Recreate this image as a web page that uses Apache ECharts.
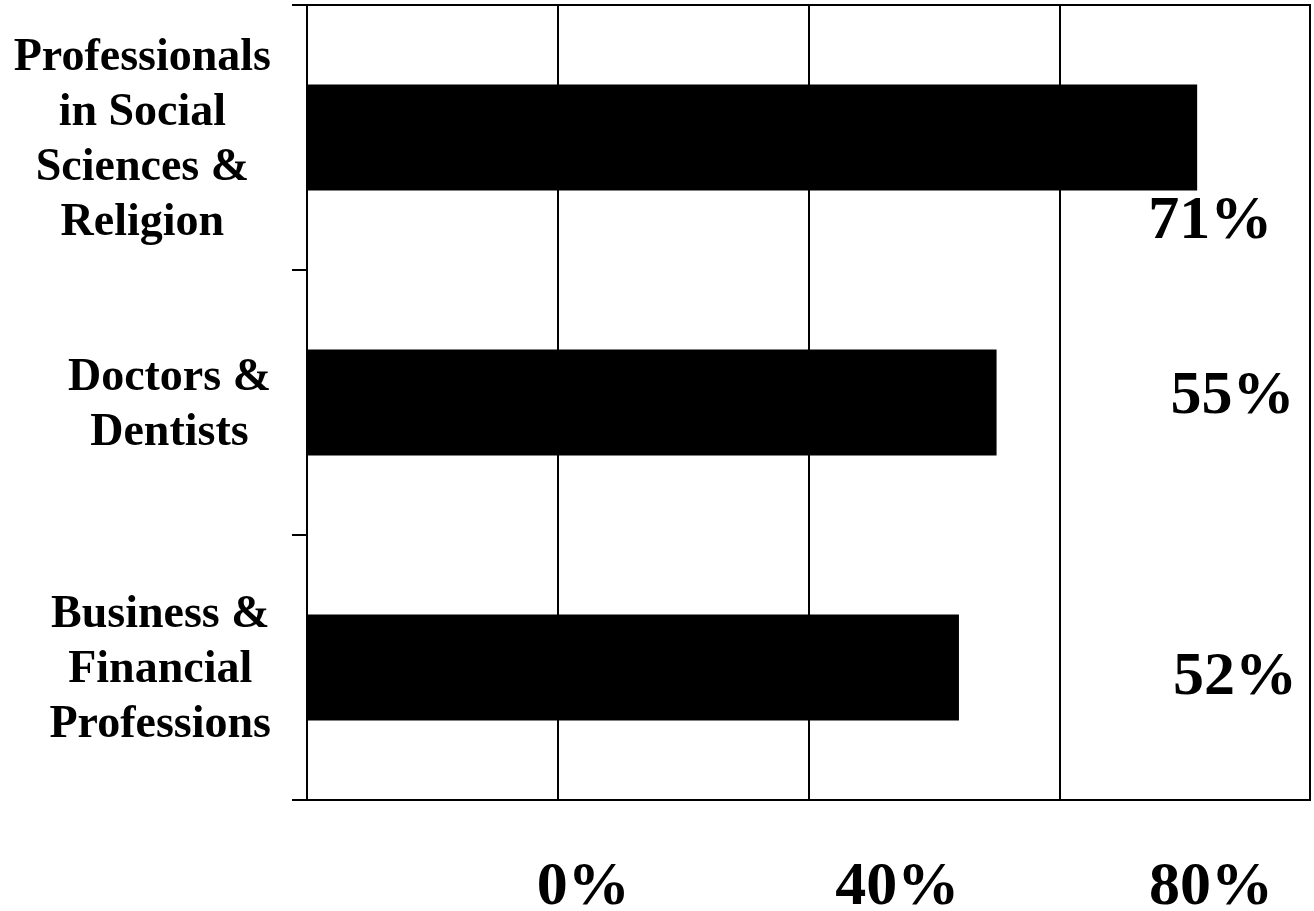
<!DOCTYPE html>
<html>
<head>
<meta charset="utf-8">
<script src="https://cdn.jsdelivr.net/npm/echarts@6/dist/echarts.min.js"></script>
<style>
html,body{margin:0;padding:0;background:#fff;}
#chart{width:1314px;height:911px;}
</style>
</head>
<body>
<div id="chart"></div>
<script>
// ---- data ----
const categories = [
  "Professionals\nin Social\nSciences &\nReligion",
  "Doctors &\nDentists",
  "Business &\nFinancial\nProfessions"
];
const values = [71, 55, 52];
const tickLabelValues = [0, 40, 80];

// ---- layout (label placement, not data) ----
const labelOffsets = [[13, 84], [236, -6], [276, 10]];

const FONT = "'Liberation Serif', 'Times New Roman', serif";
const chart = echarts.init(document.getElementById('chart'));

const option = {
  animation: false,
  backgroundColor: '#fff',
  grid: {
    left: 307, right: 4, top: 5, bottom: 111,
    outerBoundsMode: 'none', containLabel: false,
    show: true, borderColor: '#000', borderWidth: 2, backgroundColor: 'transparent'
  },
  xAxis: [
    {
      type: 'value', min: 0, max: 80, interval: 20,
      axisLine: { show: true, onZero: false, lineStyle: { color: '#000', width: 2 } },
      axisTick: { show: false },
      axisLabel: { show: false },
      splitLine: { show: true, lineStyle: { color: '#000', width: 2 } }
    },
    {
      type: 'value', min: -35.2, max: 92.6, position: 'bottom',
      axisLine: { show: false }, axisTick: { show: false }, splitLine: { show: false },
      axisLabel: {
        show: true,
        customValues: tickLabelValues,
        formatter: v => v + '%',
        fontFamily: FONT, fontWeight: 'bold', fontSize: 62, color: '#000',
        margin: 57, lineHeight: 62
      }
    }
  ],
  yAxis: {
    type: 'category', data: categories, inverse: true,
    axisLine: { show: true, lineStyle: { color: '#000', width: 2 } },
    axisTick: { show: true, length: 15, lineStyle: { color: '#000', width: 2 } },
    axisLabel: {
      margin: 36,
      color: '#000',
      padding: [6, 0, 0, 0],
      formatter: s => s.split('\n').map(l => '{c|' + l + '}').join('\n'),
      rich: {
        c: { align: 'center', fontFamily: FONT, fontWeight: 'bold', fontSize: 46, lineHeight: 55, color: '#000' }
      }
    },
    splitLine: { show: false }
  },
  series: [{
    type: 'bar',
    xAxisIndex: 0,
    barWidth: '40%',
    itemStyle: { color: '#000' },
    data: values.map((v, i) => ({
      value: v,
      label: { offset: labelOffsets[i] }
    })),
    label: {
      show: true, position: 'right', distance: 0, align: 'center', verticalAlign: 'middle',
      formatter: p => p.value + '%',
      fontFamily: FONT, fontWeight: 'bold', fontSize: 62, color: '#000'
    }
  }]
};
chart.setOption(option);
</script>
</body>
</html>
